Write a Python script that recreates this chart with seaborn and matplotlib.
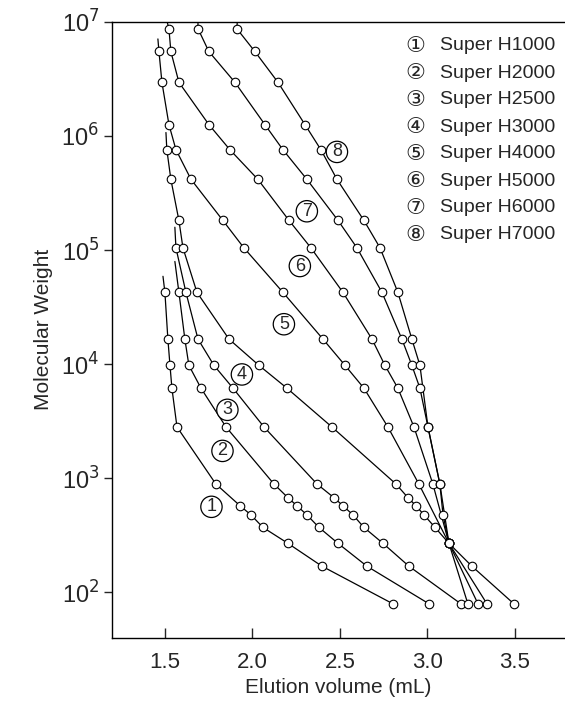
import numpy as np
import pandas as pd
import matplotlib
matplotlib.use("Agg")
import matplotlib.pyplot as plt
import seaborn as sns

# calibration curves: elution volume (mL) vs log10(molecular weight)
names = ["Super H1000", "Super H2000", "Super H2500", "Super H3000",
         "Super H4000", "Super H5000", "Super H6000", "Super H7000"]
circled = ["①", "②", "③", "④", "⑤", "⑥", "⑦", "⑧"]

# line-only start of each curve (upper end, no marker)
stub_vol = [1.489, 1.557, 1.557, 1.506, 1.460, 1.511, 1.689, 1.914]
stub_logmw = [4.77, 4.90, 5.20, 6.03, 6.85, 7.01, 7.01, 7.01]

vol = [
    [1.500, 1.517, 1.529, 1.540, 1.569, 1.791, 1.929, 1.991, 2.060, 2.203, 2.397, 2.803],
    [1.580, 1.614, 1.637, 1.706, 1.849, 2.123, 2.203, 2.254, 2.311, 2.380, 2.489, 2.654, 3.009],
    [1.563, 1.620, 1.689, 1.780, 1.889, 2.066, 2.369, 2.466, 2.517, 2.574, 2.637, 2.746, 2.894, 3.191],
    [1.511, 1.534, 1.580, 1.603, 1.683, 1.866, 2.037, 2.197, 2.454, 2.820, 2.889, 2.934, 2.980, 3.043, 3.123, 3.231],
    [1.466, 1.483, 1.523, 1.563, 1.649, 1.831, 1.951, 2.174, 2.403, 2.529, 2.637, 2.774, 2.951, 3.123, 3.289],
    [1.523, 1.534, 1.580, 1.751, 1.871, 2.031, 2.209, 2.334, 2.517, 2.683, 2.757, 2.831, 2.923, 3.031, 3.123, 3.340],
    [1.689, 1.751, 1.900, 2.071, 2.174, 2.311, 2.489, 2.597, 2.740, 2.854, 2.911, 2.957, 3.003, 3.071, 3.089, 3.123, 3.254, 3.494],
    [1.911, 2.014, 2.146, 2.300, 2.391, 2.483, 2.637, 2.729, 2.831, 2.911, 2.957, 3.003, 3.071, 3.123],
]
logmw = [
    [4.63, 4.22, 3.99, 3.79, 3.45, 2.95, 2.76, 2.68, 2.57, 2.43, 2.23, 1.90],
    [4.63, 4.22, 3.99, 3.79, 3.45, 2.95, 2.83, 2.76, 2.68, 2.57, 2.43, 2.23, 1.90],
    [5.02, 4.63, 4.22, 3.99, 3.79, 3.45, 2.95, 2.83, 2.76, 2.68, 2.57, 2.43, 2.23, 1.90],
    [5.88, 5.62, 5.26, 5.02, 4.63, 4.22, 3.99, 3.79, 3.45, 2.95, 2.83, 2.76, 2.68, 2.57, 2.43, 1.90],
    [6.74, 6.47, 6.10, 5.88, 5.62, 5.26, 5.02, 4.63, 4.22, 3.99, 3.79, 3.45, 2.95, 2.43, 1.90],
    [6.94, 6.74, 6.47, 6.10, 5.88, 5.62, 5.26, 5.02, 4.63, 4.22, 3.99, 3.79, 3.45, 2.95, 2.43, 1.90],
    [6.94, 6.74, 6.47, 6.10, 5.88, 5.62, 5.26, 5.02, 4.63, 4.22, 3.99, 3.79, 3.45, 2.95, 2.68, 2.43, 2.23, 1.90],
    [6.94, 6.74, 6.47, 6.10, 5.88, 5.62, 5.26, 5.02, 4.63, 4.22, 3.99, 3.45, 2.95, 2.43],
]

# positions of the circled curve numbers inside the plot
lab_vol = [1.766, 1.829, 1.857, 1.940, 2.180, 2.271, 2.311, 2.483]
lab_logmw = [2.75, 3.24, 3.60, 3.91, 4.35, 4.86, 5.34, 5.86]

sns.set_style("white")
plt.rcParams["font.family"] = ["Liberation Sans", "DejaVu Sans"]

fig = plt.figure(figsize=(5.65, 7.04), dpi=100)
ax = fig.add_axes([0.198, 0.094, 0.802, 0.875])

for i in range(8):
    line_df = pd.DataFrame({
        "vol": [stub_vol[i]] + vol[i],
        "mw": 10 ** np.array([stub_logmw[i]] + logmw[i]),
    })
    sns.lineplot(data=line_df, x="vol", y="mw", sort=False, estimator=None,
                 color="black", linewidth=0.9, ax=ax)
    pts = pd.DataFrame({"vol": vol[i], "mw": 10 ** np.array(logmw[i])})
    sns.scatterplot(data=pts, x="vol", y="mw", s=38, facecolor="white",
                    edgecolor="black", linewidth=0.8, zorder=3, ax=ax)
    ax.text(lab_vol[i], 10 ** lab_logmw[i], str(i + 1), fontsize=13,
            ha="center", va="center", zorder=4,
            bbox=dict(boxstyle="circle,pad=0.12", fc="white", ec="black", lw=0.9))

ax.set_yscale("log")
ax.set_xlim(1.197, 3.786)
ax.set_ylim(40, 1e7)
ax.set_xticks([1.5, 2.0, 2.5, 3.0, 3.5])
ax.set_xticklabels(["1.5", "2.0", "2.5", "3.0", "3.5"], fontsize=16)
ax.set_yticks([1e2, 1e3, 1e4, 1e5, 1e6, 1e7])
ax.set_yticklabels([r"10$^{%d}$" % k for k in range(2, 8)], fontsize=17)
ax.minorticks_off()
ax.tick_params(axis="x", direction="in", length=7, width=1, pad=10, bottom=True)
ax.tick_params(axis="y", direction="out", length=6, width=1, pad=3, left=True)
for sp in ["left", "bottom", "top"]:
    ax.spines[sp].set_color("black")
    ax.spines[sp].set_linewidth(1.0)
ax.spines["right"].set_visible(False)

ax.set_xlabel("Elution volume (mL)", fontsize=15, labelpad=4)
ax.set_ylabel("Molecular Weight", fontsize=15, labelpad=6)

for i in range(8):
    y = 1 - (46 + i * 27.0) / 704
    fig.text(415 / 565, y, circled[i], fontsize=16, ha="center", va="center",
             family=["DejaVu Serif", "DejaVu Sans"])
    fig.text(440 / 565, y, names[i], fontsize=14, ha="left", va="center")

fig.savefig("out.png", dpi=100)
